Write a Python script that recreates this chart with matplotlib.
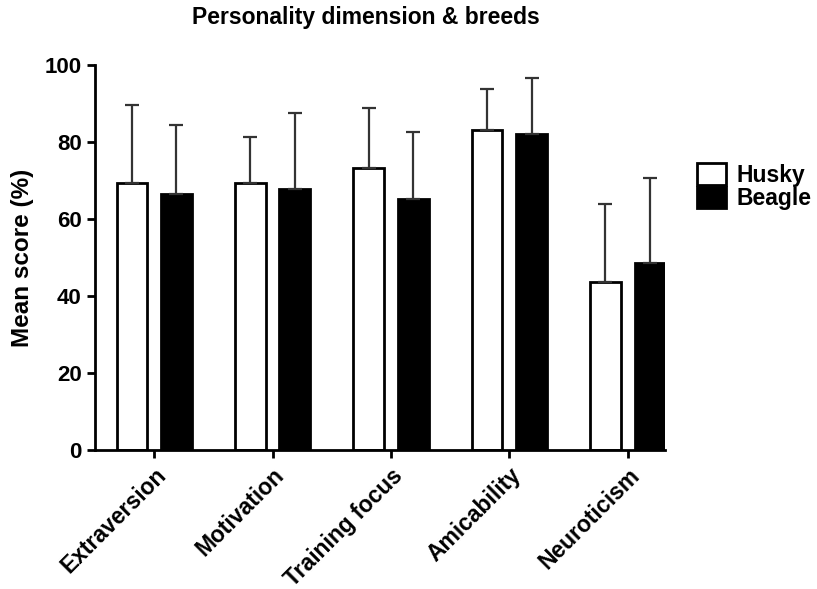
import numpy as np
import matplotlib.pyplot as plt

plt.rcParams['font.family'] = ['Liberation Sans', 'DejaVu Sans']
plt.rcParams['font.weight'] = 'bold'

# mean scores and upper SD per personality dimension
dimensions = ['Extraversion', 'Motivation', 'Training focus', 'Amicability', 'Neuroticism']
husky_mean = [69.4, 69.4, 73.4, 83.1, 43.8]
husky_sd = [20.3, 12.1, 15.5, 10.7, 20.1]
beagle_mean = [66.6, 67.8, 65.3, 82.1, 48.7]
beagle_sd = [17.9, 19.9, 17.3, 14.6, 22.0]

x = np.arange(len(dimensions))
w = 0.26
off = 0.188

fig = plt.figure(figsize=(8.17, 5.89), dpi=100)
ax = fig.add_axes([0.1163, 0.236, 0.698, 0.653])

err_kw = dict(ecolor='#333333', elinewidth=1.6, capsize=5, capthick=1.6)
ax.bar(x - off, husky_mean, w, color='white', edgecolor='black', linewidth=2,
       yerr=[np.zeros(len(x)), husky_sd], error_kw=err_kw, label='Husky', zorder=2)
ax.bar(x + off, beagle_mean, w, color='black', edgecolor='black', linewidth=2,
       yerr=[np.zeros(len(x)), beagle_sd], error_kw=err_kw, label='Beagle', zorder=2)

ax.set_ylim(0, 100)
ax.set_xlim(-0.5, x[-1] + off + w / 2)
ax.set_yticks(np.arange(0, 101, 20))
ax.set_xticks(x)
ax.set_xticklabels(dimensions, rotation=45, ha='right', rotation_mode='anchor')
ax.tick_params(axis='both', direction='out', length=6, width=2, labelsize=16)
ax.tick_params(axis='x', labelsize=16.5, pad=4)
for s in ['top', 'right']:
    ax.spines[s].set_visible(False)
for s in ['left', 'bottom']:
    ax.spines[s].set_linewidth(2)

ax.set_ylabel('Mean score (%)', fontsize=17.5, fontweight='bold', labelpad=8)
fig.text(0.448, 0.971, 'Personality dimension & breeds', ha='center', va='center',
         fontsize=16.5, fontweight='bold')

leg = fig.legend(loc='upper left', bbox_to_anchor=(0.853, 0.723), frameon=False,
                 fontsize=16.5, handlelength=1.27, handleheight=1.07, labelspacing=0,
                 handletextpad=0.45, borderpad=0, borderaxespad=0)
for p in leg.get_patches():
    p.set_linewidth(2)

fig.savefig('out.png', dpi=100)
